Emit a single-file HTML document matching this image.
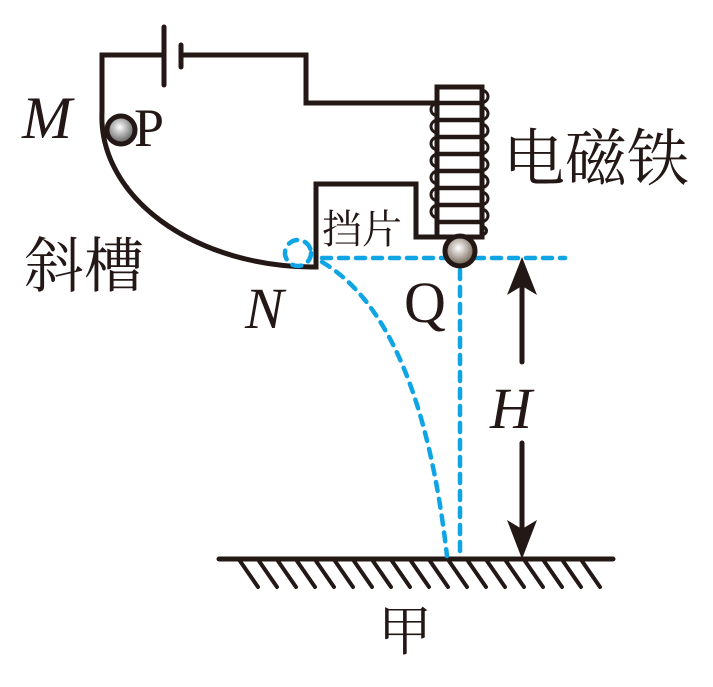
<!DOCTYPE html>
<html><head><meta charset="utf-8"><style>
body{margin:0;background:#fff}
svg text{font-family:"Liberation Serif","Noto Serif CJK SC",serif;fill:#231815}
</style></head><body>
<svg width="713" height="682" viewBox="0 0 713 682" xmlns="http://www.w3.org/2000/svg">
<defs>
<radialGradient id="g" cx="0.45" cy="0.4" r="0.6"><stop offset="0" stop-color="#fff"/><stop offset="1" stop-color="#555"/></radialGradient>
<radialGradient id="g2" cx="0.45" cy="0.4" r="0.6"><stop offset="0" stop-color="#fff"/><stop offset="1" stop-color="#6b5a4a"/></radialGradient>
</defs>
<g stroke="#231815" stroke-width="5" fill="none" stroke-linecap="round" stroke-linejoin="miter">
<path d="M164 55 H102 V112 A212 150 0 0 0 312 267 L316 267 V184 H416 V237 H437"/>
<path d="M181 55 H306 V103 H437"/>
<line x1="164" y1="27" x2="164" y2="85"/>
<line x1="181" y1="45" x2="181" y2="67"/>
<rect x="437" y="87" width="45" height="150" stroke-linecap="butt"/>
<path d="M437 103 H482 M437 120 H482 M437 137 H482 M437 154 H482 M437 171 H482 M437 188 H482 M437 205 H482 M437 222 H482" stroke-width="4.5"/>
<path d="M482 90 c8 2 8 11 0 13 M482 107 c8 2 8 11 0 13 M482 124 c8 2 8 11 0 13 M482 141 c8 2 8 11 0 13 M482 158 c8 2 8 11 0 13 M482 175 c8 2 8 11 0 13 M482 192 c8 2 8 11 0 13 M482 209 c8 2 8 11 0 13 M482 226 c6 2 6 8 0 9" stroke-width="3"/>
<path d="M437 103 c-8 2 -8 11 0 13 M437 120 c-8 2 -8 11 0 13 M437 137 c-8 2 -8 11 0 13 M437 154 c-8 2 -8 11 0 13 M437 171 c-8 2 -8 11 0 13 M437 188 c-8 2 -8 11 0 13 M437 205 c-8 2 -8 11 0 13" stroke-width="3"/>
<line x1="219" y1="559" x2="613" y2="559"/>
<path d="M240 561 l18 26 M259 561 l18 26 M278 561 l18 26 M297 561 l18 26 M316 561 l18 26 M335 561 l18 26 M354 561 l18 26 M373 561 l18 26 M392 561 l18 26 M411 561 l18 26 M430 561 l18 26 M449 561 l18 26 M468 561 l18 26 M487 561 l18 26 M506 561 l18 26 M525 561 l18 26 M544 561 l18 26 M563 561 l18 26 M582 561 l18 26" stroke-width="4"/>
<line x1="522" y1="285" x2="522" y2="362"/>
<line x1="522" y1="443" x2="522" y2="530"/>
</g>
<path d="M522 257 L507 295 L522 286 L537 295 Z" fill="#231815"/>
<path d="M522 559 L507 520 L522 529 L537 520 Z" fill="#231815"/>
<g stroke="#0fa5e5" stroke-width="4.5" fill="none" stroke-dasharray="9 8" stroke-linecap="round">
<line x1="322" y1="258" x2="565" y2="258"/>
<line x1="460" y1="270" x2="460" y2="556"/>
<path d="M322 262 Q420 320 447 556"/>
<circle cx="298" cy="253" r="13"/>
</g>
<circle cx="121" cy="130" r="14" fill="url(#g)" stroke="#231815" stroke-width="5"/>
<circle cx="460" cy="251" r="15" fill="url(#g2)" stroke="#231815" stroke-width="5"/>
<text x="22" y="138" font-size="60" font-style="italic">M</text>
<text x="134" y="146" font-size="54">P</text>
<text x="24" y="287" font-size="60" font-family="Liberation Sans,Noto Sans CJK SC,sans-serif">斜槽</text>
<text x="322" y="243" font-size="40">挡片</text>
<text x="503" y="180" font-size="62">电磁铁</text>
<text x="245" y="328" font-size="58" font-style="italic">N</text>
<text x="404" y="322" font-size="58">Q</text>
<text x="490" y="428" font-size="58" font-style="italic">H</text>
<text x="378" y="650" font-size="54">甲</text>
</svg>
</body></html>
